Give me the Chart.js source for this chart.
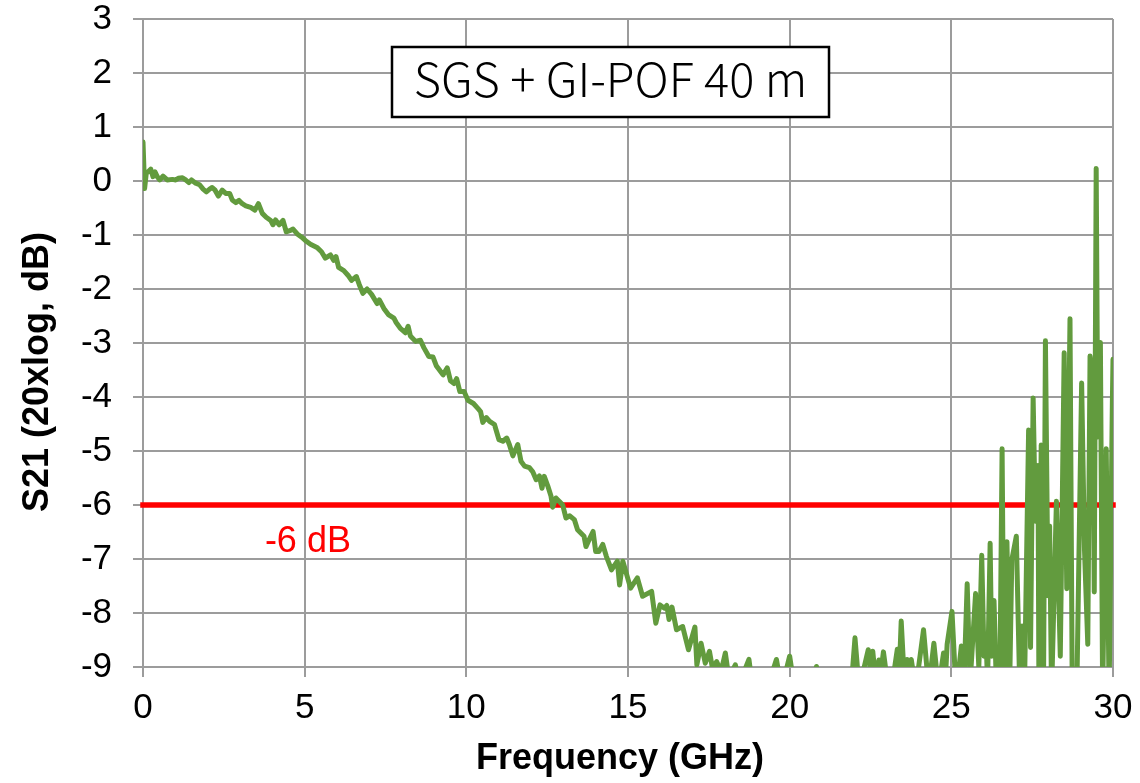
<!DOCTYPE html>
<html>
<head>
<meta charset="utf-8">
<title>S21 vs frequency</title>
<script src="https://cdn.jsdelivr.net/npm/chart.js@4.4.1/dist/chart.umd.min.js"></script>
<style>
  html, body { margin: 0; padding: 0; background: #fff; }
  #wrap { width: 1140px; height: 783px; }
</style>
</head>
<body>
<div id="wrap"><canvas id="s21Chart" width="1140" height="783"></canvas></div>
<script>
// measured S21 of the link, GHz / dB (values below -9 dB fall off the plot)
const freqGHz = [
  0.00, 0.05, 0.10, 0.16, 0.24, 0.31, 0.37, 0.44, 0.52, 0.62,
  0.75, 0.91, 1.01, 1.09, 1.22, 1.32, 1.42, 1.50, 1.63, 1.75,
  1.86, 1.96, 2.06, 2.14, 2.23, 2.33, 2.45, 2.56, 2.68, 2.76,
  2.87, 2.97, 3.07, 3.18, 3.33, 3.46, 3.57, 3.69, 3.81, 3.95,
  4.02, 4.10, 4.21, 4.33, 4.43, 4.54, 4.64, 4.77, 4.91, 5.02,
  5.18, 5.38, 5.52, 5.64, 5.80, 5.90, 5.97, 6.05, 6.21, 6.36,
  6.45, 6.60, 6.69, 6.80, 6.93, 7.07, 7.24, 7.31, 7.45, 7.60,
  7.76, 7.83, 7.96, 8.12, 8.20, 8.27, 8.43, 8.58, 8.69, 8.84,
  8.97, 9.07, 9.17, 9.28, 9.41, 9.51, 9.62, 9.70, 9.80, 9.93,
  10.05, 10.22, 10.37, 10.44, 10.51, 10.62, 10.72, 10.87, 11.01, 11.13,
  11.25, 11.33, 11.44, 11.59, 11.69, 11.80, 11.95, 12.05, 12.16, 12.26,
  12.34, 12.41, 12.52, 12.62, 12.67, 12.77, 12.87, 12.98, 13.08, 13.20,
  13.34, 13.44, 13.54, 13.64, 13.70, 13.80, 13.92, 14.00, 14.10, 14.22,
  14.33, 14.49, 14.67, 14.74, 14.84, 15.08, 15.29, 15.45, 15.73, 15.86,
  15.99, 16.12, 16.20, 16.27, 16.36, 16.50, 16.69, 16.87, 17.07, 17.13,
  17.26, 17.39, 17.52, 17.62, 17.74, 17.88, 18.01, 18.12, 18.32, 18.45,
  18.74, 18.86, 19.20, 19.59, 19.75, 20.00, 20.15, 20.60, 20.83, 21.00,
  21.50, 21.90, 22.02, 22.15, 22.43, 22.50, 22.57, 22.65, 22.76, 22.82,
  22.90, 23.05, 23.20, 23.33, 23.39, 23.45, 23.55, 23.63, 23.70, 23.76,
  23.90, 24.14, 24.30, 24.46, 24.60, 24.76, 24.81, 24.87, 25.02, 25.15,
  25.31, 25.38, 25.49, 25.58, 25.75, 25.85, 25.94, 26.01, 26.07, 26.12,
  26.20, 26.25, 26.32, 26.40, 26.50, 26.57, 26.63, 26.72, 26.80, 26.87,
  27.01, 27.12, 27.19, 27.26, 27.39, 27.45, 27.53, 27.60, 27.68, 27.71,
  27.78, 27.85, 27.91, 27.99, 28.04, 28.10, 28.25, 28.37, 28.49, 28.57,
  28.67, 28.74, 28.88, 29.03, 29.12, 29.22, 29.29, 29.37, 29.42, 29.48,
  29.53, 29.61, 29.68, 29.79, 29.88, 29.98, 30.00
];
const s21dB = [
  0.72, -0.14, 0.14, 0.17, 0.22, 0.08, 0.17, 0.08, 0.02, 0.09,
  0.02, 0.03, 0.02, 0.05, 0.06, 0.02, -0.03, 0.02, -0.04, -0.07,
  -0.15, -0.20, -0.15, -0.12, -0.17, -0.28, -0.17, -0.23, -0.23, -0.35,
  -0.40, -0.36, -0.42, -0.46, -0.49, -0.54, -0.42, -0.60, -0.67, -0.73,
  -0.81, -0.72, -0.81, -0.73, -0.94, -0.92, -0.89, -0.98, -1.04, -1.10,
  -1.17, -1.23, -1.31, -1.43, -1.37, -1.47, -1.40, -1.60, -1.66, -1.76,
  -1.84, -1.77, -1.92, -2.08, -2.00, -2.10, -2.27, -2.20, -2.36, -2.48,
  -2.54, -2.62, -2.73, -2.81, -2.69, -2.87, -2.97, -2.95, -3.09, -3.25,
  -3.26, -3.42, -3.50, -3.59, -3.46, -3.70, -3.75, -3.66, -3.90, -3.90,
  -4.06, -4.12, -4.22, -4.27, -4.47, -4.38, -4.45, -4.51, -4.79, -4.82,
  -4.76, -4.88, -5.09, -4.88, -5.19, -5.28, -5.31, -5.38, -5.53, -5.46,
  -5.69, -5.47, -5.65, -5.84, -6.04, -5.87, -5.93, -6.00, -6.24, -6.20,
  -6.27, -6.46, -6.52, -6.58, -6.77, -6.64, -6.49, -6.86, -6.86, -6.73,
  -6.95, -7.20, -7.04, -7.48, -7.04, -7.54, -7.35, -7.69, -7.60, -8.19,
  -7.85, -7.91, -7.86, -8.12, -7.89, -8.31, -8.25, -8.68, -8.26, -8.96,
  -8.56, -8.93, -8.71, -9.05, -8.90, -9.08, -8.74, -9.20, -8.96, -9.30,
  -8.86, -9.40, -9.60, -8.86, -9.40, -8.80, -9.40, -9.50, -8.99, -9.60,
  -9.80, -9.40, -8.46, -9.40, -8.68, -9.10, -8.71, -9.20, -8.87, -9.10,
  -8.72, -9.40, -9.20, -8.67, -9.10, -8.15, -9.30, -8.86, -9.10, -8.86,
  -9.40, -8.31, -9.40, -8.56, -9.40, -8.74, -9.30, -8.58, -7.97, -9.50,
  -8.61, -9.50, -7.46, -9.30, -7.64, -9.00, -6.93, -8.80, -8.39, -9.30,
  -6.71, -8.80, -7.77, -9.50, -9.40, -4.96, -9.50, -6.68, -9.50, -7.02,
  -6.58, -9.50, -8.24, -9.50, -4.61, -8.64, -4.02, -6.30, -5.27, -9.50,
  -4.89, -9.50, -2.96, -7.68, -6.39, -9.50, -5.93, -8.80, -3.18, -7.55,
  -2.55, -9.50, -9.50, -3.74, -6.86, -8.58, -3.24, -3.61, -7.61, 0.23,
  -4.74, -2.99, -9.50, -4.96, -9.50, -4.11, -3.30
];

// -6 dB reference level across the whole span
const refFreq = [0, 30];
const refLevel = [-6, -6];

const xRange = [0, 30];
const yRange = [-9, 3];

const sampleName = 'SGS + GI-POF 40 m';
const refName = '-6 dB';
const xTitle = 'Frequency (GHz)';
const yTitle = 'S21 (20xlog, dB)';

const gridGray = '#9c9c9c';
const axisFont = "'Liberation Sans', Arial, sans-serif";

const toPoints = (xs, ys) => xs.map((x, i) => ({ x: x, y: ys[i] }));

// box label, -6 dB text and axis titles
const overlay = {
  id: 'overlay',
  afterDraw(chart) {
    const ctx = chart.ctx;
    const xs = chart.scales.x;
    const ys = chart.scales.y;
    ctx.save();

    ctx.fillStyle = '#fff';
    ctx.fillRect(392, 47, 437, 70);
    ctx.lineWidth = 2.5;
    ctx.strokeStyle = '#000';
    ctx.strokeRect(392, 47, 437, 70);
    ctx.fillStyle = '#000';
    ctx.font = "300 47px 'Noto Sans CJK JP', sans-serif";
    ctx.textAlign = 'center';
    ctx.textBaseline = 'alphabetic';
    ctx.fillText(sampleName, 610.5, 97);

    ctx.fillStyle = '#ff0000';
    ctx.font = '36px ' + axisFont;
    ctx.fillText(refName, xs.getPixelForValue(5.1), ys.getPixelForValue(refLevel[0]) + 47);

    ctx.fillStyle = '#000';
    ctx.font = 'bold 36px ' + axisFont;
    ctx.fillText(xTitle, 620, 769);

    ctx.translate(38, 372);
    ctx.rotate(-Math.PI / 2);
    ctx.textBaseline = 'middle';
    ctx.fillText(yTitle, 0, 0);
    ctx.restore();
  }
};

const ctx = document.getElementById('s21Chart').getContext('2d');
new Chart(ctx, {
  type: 'line',
  data: {
    datasets: [{
      label: sampleName,
      data: toPoints(freqGHz, s21dB),
      borderColor: '#629b3e',
      borderWidth: 5,
      borderJoinStyle: 'round',
      borderCapStyle: 'round',
      pointRadius: 0,
      tension: 0,
      order: 0
    }, {
      label: refName,
      data: toPoints(refFreq, refLevel),
      borderColor: '#ff0000',
      borderWidth: 5.5,
      borderCapStyle: 'square',
      clip: false,
      pointRadius: 0,
      order: 1
    }]
  },
  options: {
    responsive: false,
    animation: false,
    devicePixelRatio: 1,
    layout: { padding: { top: 19, right: 27, left: 0, bottom: 0 } },
    plugins: {
      legend: { display: false },
      tooltip: { enabled: false }
    },
    scales: {
      x: {
        type: 'linear',
        min: xRange[0],
        max: xRange[1],
        afterFit(scale) {
          scale.height = 116;
          scale.paddingLeft = 0;
          scale.paddingRight = 0;
        },
        ticks: {
          stepSize: 5,
          color: '#000',
          padding: 14,
          maxRotation: 0,
          font: { family: axisFont, size: 35, lineHeight: 1 }
        },
        grid: { color: gridGray, lineWidth: 2, tickLength: 10, tickColor: gridGray },
        border: { color: gridGray, width: 2 }
      },
      y: {
        min: yRange[0],
        max: yRange[1],
        afterFit(scale) {
          scale.width = 143;
          scale.paddingTop = 0;
          scale.paddingBottom = 0;
        },
        ticks: {
          stepSize: 1,
          color: '#000',
          padding: 21,
          font: { family: axisFont, size: 35, lineHeight: 1 }
        },
        grid: { color: gridGray, lineWidth: 2, tickLength: 10, tickColor: gridGray },
        border: { color: gridGray, width: 2 }
      }
    }
  },
  plugins: [overlay]
});
</script>
</body>
</html>
